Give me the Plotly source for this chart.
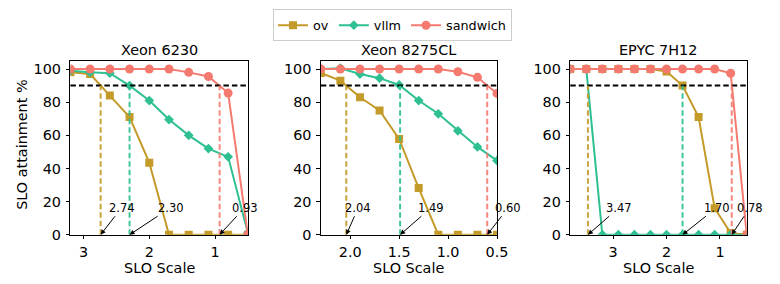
import plotly.graph_objects as go

# ---------------- data ----------------
panel_titles = ["Xeon 6230", "Xeon 8275CL", "EPYC 7H12"]
series_names = ["ov", "vllm", "sandwich"]

x_6230 = [3.2, 2.9, 2.6, 2.3, 2.0, 1.7, 1.4, 1.1, 0.8, 0.5]
ov_6230 = [98, 97, 84, 71, 43.5, 0, 0, 0, 0, 0]
vllm_6230 = [99, 98, 97.5, 90, 81, 69.5, 60, 52, 47, 1]
sandwich_6230 = [100, 100, 100, 100, 100, 100, 98, 95.5, 85.5, 0]
cross_6230 = [2.74, 2.30, 0.93]

x_8275 = [2.3, 2.1, 1.9, 1.7, 1.5, 1.3, 1.1, 0.9, 0.7, 0.5]
ov_8275 = [97.6, 93, 83, 75, 57.8, 28.2, 0, 0, 0, 0]
vllm_8275 = [100, 100.5, 97, 94.5, 90.4, 81, 73, 62.7, 53, 44.7]
sandwich_8275 = [100, 100, 100, 100, 100, 100, 100, 98.4, 95, 85.3]
cross_8275 = [2.04, 1.49, 0.60]

x_7h12 = [3.8, 3.5, 3.2, 2.9, 2.6, 2.3, 2.0, 1.7, 1.4, 1.1, 0.8, 0.5]
ov_7h12 = [100, 100, 100, 100, 100, 100, 98.5, 90, 71, 16, 1, 0]
vllm_7h12 = [100, 100, 0, 0, 0, 0, 0, 0, 0, 0, 0, 0]
sandwich_7h12 = [100, 100, 100, 100, 100, 100, 100, 100, 100, 100, 97.5, 0]
cross_7h12 = [3.47, 1.70, 0.78]

x_tickvals = [[3, 2, 1], [2.0, 1.5, 1.0, 0.5], [3, 2, 1]]
x_ticktext = [["3", "2", "1"], ["2.0", "1.5", "1.0", "0.5"], ["3", "2", "1"]]
y_ticks = [0, 20, 40, 60, 80, 100]
threshold = 90

# ---------------- styling / layout ----------------
W, H = 780, 284
FONT = "DejaVu Sans"
FS = 14.4
colors = {"ov": "#C49A28", "vllm": "#2EBF93", "sandwich": "#F47A70"}
symbols = {"ov": "square", "vllm": "diamond", "sandwich": "circle"}
msize = {"ov": 8, "vllm": 7.5, "sandwich": 9}

x_domains_px = [(63.3, 243.3), (317.3, 496.0), (570.3, 749.3)]
y_top_px, y_bot_px = 54.3, 233.3
x_ranges = [[3.2, 0.5], [2.3, 0.5], [3.8, 0.5]]
# annotation text offsets (pixels, text centre relative to arrow tip)
ann_offsets = [[21, 41, 25], [12, 31, 21], [31, 34, 18]]
ann_ay = -27

panels = [
    (x_6230, {"ov": ov_6230, "vllm": vllm_6230, "sandwich": sandwich_6230}, cross_6230),
    (x_8275, {"ov": ov_8275, "vllm": vllm_8275, "sandwich": sandwich_8275}, cross_8275),
    (x_7h12, {"ov": ov_7h12, "vllm": vllm_7h12, "sandwich": sandwich_7h12}, cross_7h12),
]

fig = go.Figure()
layout = dict(
    width=W, height=H,
    margin=dict(l=0, r=0, t=0, b=0),
    paper_bgcolor="white", plot_bgcolor="white",
    font=dict(family=FONT, size=FS, color="black"),
    showlegend=True,
    legend=dict(orientation="h", x=0.5, xanchor="center", y=0.995, yanchor="top",
                bordercolor="#cccccc", borderwidth=1, bgcolor="white",
                font=dict(family=FONT, size=12.8), itemwidth=30,
                tracegroupgap=0),
)
shapes = []
annotations = []

y_dom = [1 - y_bot_px / H, 1 - y_top_px / H]

for i, (xs, ys, crosses) in enumerate(panels):
    k = "" if i == 0 else str(i + 1)
    xa, ya = "x" + k, "y" + k
    x0, x1 = x_domains_px[i]
    axis_common = dict(showline=True, linecolor="black", linewidth=1, mirror=True,
                       ticks="outside", ticklen=3.5, tickwidth=1, tickcolor="black",
                       showgrid=False, zeroline=False,
                       tickfont=dict(family=FONT, size=FS, color="black"))
    layout["xaxis" + k] = dict(domain=[x0 / W, x1 / W], range=x_ranges[i],
                               tickvals=x_tickvals[i], ticktext=x_ticktext[i],
                               anchor=ya, **axis_common)
    layout["yaxis" + k] = dict(domain=y_dom, range=[0, 105], tickvals=y_ticks,
                               anchor=xa, ticklabelstandoff=2, **axis_common)

    for name in series_names:
        fig.add_trace(go.Scatter(
            x=xs, y=ys[name], mode="lines+markers", name=name,
            legendgroup=name, showlegend=(i == 0),
            line=dict(color=colors[name], width=2),
            marker=dict(symbol=symbols[name], size=msize[name], color=colors[name],
                        line=dict(width=0)),
            xaxis=xa, yaxis=ya, cliponaxis=True,
        ))

    # threshold line
    shapes.append(dict(type="line", xref=xa + " domain", yref=ya, x0=0, x1=1,
                       y0=threshold, y1=threshold,
                       line=dict(color="black", width=2, dash="5.5px,3px")))
    # crossing lines + annotations
    for j, name in enumerate(series_names):
        cx = crosses[j]
        shapes.append(dict(type="line", xref=xa, yref=ya, x0=cx, x1=cx, y0=0, y1=threshold,
                           line=dict(color=colors[name], width=2, dash="5.5px,3px"),
                           opacity=0.9))
        annotations.append(dict(x=cx, y=0, xref=xa, yref=ya, text=f"{cx:.2f}",
                                showarrow=True, arrowhead=2, arrowsize=1, arrowwidth=1,
                                arrowcolor="black", ax=ann_offsets[i][j], ay=ann_ay,
                                standoff=0, font=dict(family=FONT, size=11.5, color="black")))

    # panel title
    annotations.append(dict(text=panel_titles[i], xref="paper", yref="paper",
                            x=(x0 + x1) / 2 / W, y=1 - 43.5 / H, xanchor="center",
                            yanchor="middle", showarrow=False,
                            font=dict(family=FONT, size=FS, color="black")))
    # x axis title
    annotations.append(dict(text="SLO Scale", xref="paper", yref="paper",
                            x=(x0 + x1) / 2 / W, y=1 - 268 / H, xanchor="center",
                            yanchor="middle", showarrow=False,
                            font=dict(family=FONT, size=FS, color="black")))

# y axis title
annotations.append(dict(text="SLO attainment %", xref="paper", yref="paper",
                        x=14 / W, y=1 - 141 / H, xanchor="center", yanchor="middle",
                        textangle=-90, showarrow=False,
                        font=dict(family=FONT, size=FS, color="black")))

layout["shapes"] = shapes
layout["annotations"] = annotations
fig.update_layout(**layout)
fig.write_html("out.html")
